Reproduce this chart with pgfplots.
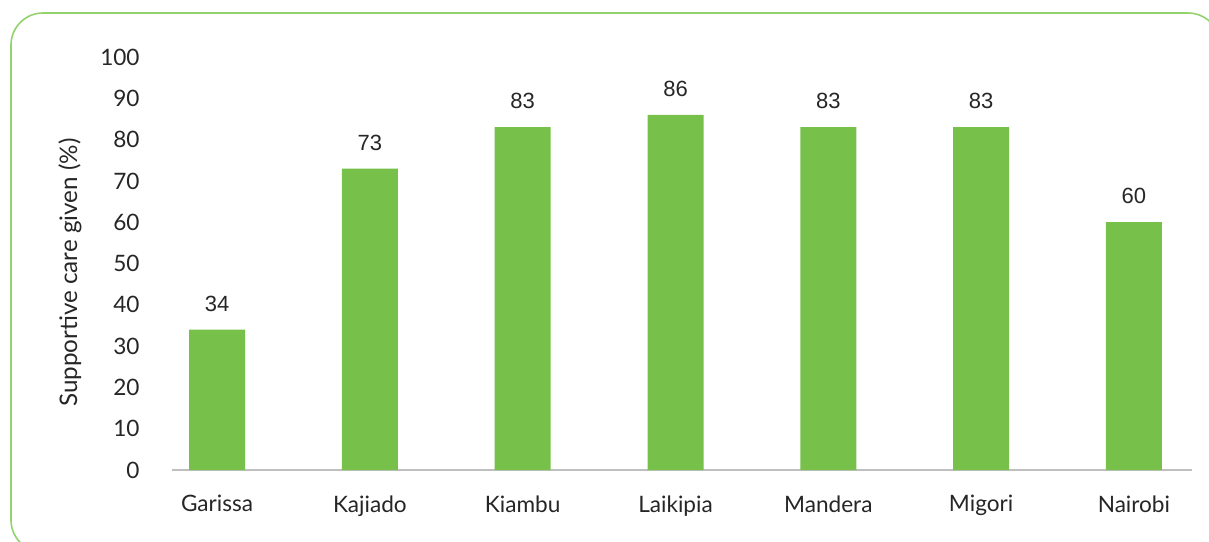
\documentclass[border=0pt]{standalone}
\usepackage{pgfplots}
\pgfplotsset{compat=1.18}
\usepackage{fontspec}
\setmainfont{Lato}
\newfontfamily\arialf{Liberation Sans}
\definecolor{barg}{HTML}{77C04A}
\definecolor{frameg}{HTML}{92D36E}
\definecolor{txt}{HTML}{262626}
\begin{document}
\begin{tikzpicture}
\useasboundingbox (0,0) rectangle (604.5pt,270.5pt);
\draw[frameg, line width=0.8pt, rounded corners=16pt] (5.5pt,-5.5pt) rectangle (610pt,264pt);
\begin{axis}[
  at={(86pt,35.5pt)}, anchor=south west,
  width=510pt, height=206.5pt, scale only axis,
  ymin=0, ymax=100, ytick={0,10,...,100},
  xmin=-0.295, xmax=6.38,
  xtick=data,
  xticklabels={Garissa,Kajiado,Kiambu,Laikipia,Mandera,Migori,Nairobi},
  /pgf/number format/assume math mode=true,
  axis lines*=left,
  y axis line style={draw=none},
  x axis line style={color=black!25, line width=0.75pt},
  major tick length=0pt,
  tick label style={font=\fontsize{11.3}{13}\selectfont, color=txt},
  yticklabel style={inner sep=0pt, anchor=east, xshift=-16pt},
  xticklabel style={inner sep=0pt, anchor=north, yshift=-12.5pt},
  ylabel={Supportive care given (\%)},
  ylabel style={at={(axis description cs:-0.1,0.478)}, anchor=center, font=\fontsize{12.1}{14}\selectfont, color=txt},
  ybar, bar width=28pt, bar shift=0pt,
  nodes near coords,
  nodes near coords style={anchor=center, inner sep=0pt, yshift=13pt, font=\arialf\fontsize{11}{13}\selectfont, color=txt},
  clip=false,
]
\addplot[fill=barg, draw=none] coordinates {(0,34) (1,73) (2,83) (3,86) (4,83) (5,83) (6,60)};
\end{axis}
\end{tikzpicture}
\end{document}
